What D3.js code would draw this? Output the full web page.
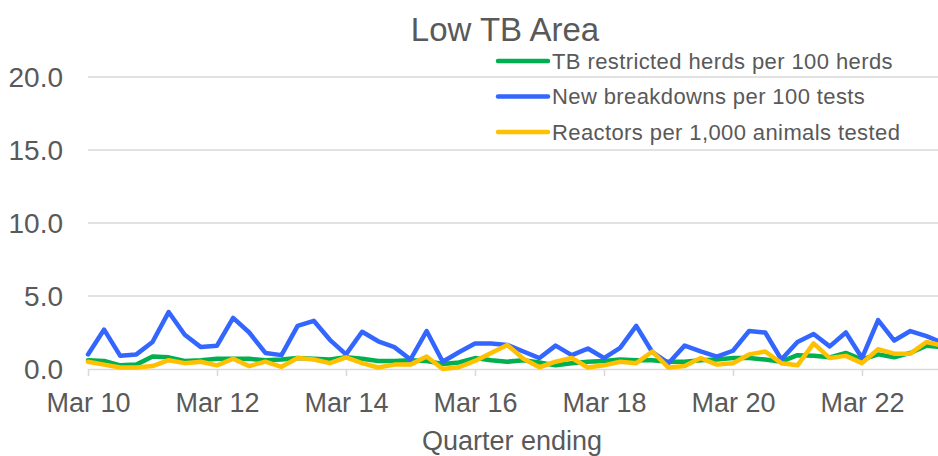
<!DOCTYPE html>
<html>
<head>
<meta charset="utf-8">
<script src="https://cdn.jsdelivr.net/npm/d3@7"></script>
<style>
  body { margin: 0; background: #fff; }
  text { font-family: "Liberation Sans", Arial, sans-serif; fill: #595959; }
</style>
</head>
<body>
<div id="chart"></div>
<script>
// categories: quarter ending, Mar 10 .. Jun 23
var months = ["Mar", "Jun", "Sep", "Dec"];
var years = ["10", "11", "12", "13", "14", "15", "16", "17", "18", "19", "20", "21", "22", "23"];
var quarters = [];
years.forEach(function (y) {
  months.forEach(function (m) {
    quarters.push(m + " " + y);
  });
});
quarters = quarters.slice(0, 54);

var restrictedHerds = [0.6, 0.55, 0.25, 0.3, 0.85, 0.8, 0.55, 0.6, 0.7, 0.7,
  0.7, 0.6, 0.65, 0.75, 0.7, 0.65, 0.8, 0.7, 0.55, 0.55,
  0.6, 0.55, 0.35, 0.45, 0.75, 0.6, 0.5, 0.6, 0.45, 0.25,
  0.4, 0.5, 0.55, 0.65, 0.6, 0.6, 0.5, 0.5, 0.6, 0.65,
  0.75, 0.75, 0.65, 0.5, 0.95, 0.9, 0.8, 1.1, 0.65, 1.0,
  0.8, 1.1, 1.6, 1.5];
var newBreakdowns = [1.0, 2.7, 0.9, 1.0, 1.85, 3.9, 2.35, 1.5, 1.6, 3.5,
  2.5, 1.1, 0.95, 2.95, 3.3, 2.0, 1.0, 2.55, 1.9, 1.5,
  0.65, 2.6, 0.5, 1.15, 1.75, 1.75, 1.65, 1.2, 0.75, 1.6,
  0.95, 1.4, 0.75, 1.45, 2.95, 1.15, 0.4, 1.6, 1.2, 0.85,
  1.25, 2.6, 2.5, 0.65, 1.85, 2.4, 1.55, 2.5, 0.75, 3.35,
  1.95, 2.6, 2.25, 1.8];
var reactors = [0.5, 0.3, 0.1, 0.1, 0.2, 0.6, 0.4, 0.5, 0.25, 0.7,
  0.2, 0.5, 0.15, 0.75, 0.65, 0.4, 0.8, 0.4, 0.1, 0.3,
  0.3, 0.85, 0.0, 0.12, 0.55, 1.1, 1.65, 0.7, 0.12, 0.5,
  0.75, 0.1, 0.25, 0.5, 0.4, 1.2, 0.1, 0.2, 0.75, 0.3,
  0.4, 1.0, 1.2, 0.4, 0.25, 1.75, 0.75, 0.9, 0.4, 1.35,
  1.05, 1.05, 1.85, 1.6];

var yTicks = [0, 5, 10, 15, 20];

var series = [
  { name: "TB restricted herds per 100 herds", values: restrictedHerds, color: "#00b050" },
  { name: "New breakdowns per 100 tests", values: newBreakdowns, color: "#3366ff" },
  { name: "Reactors per 1,000 animals tested", values: reactors, color: "#ffc000" }
];

var w = 938, h = 456;
var svg = d3.select("#chart").append("svg").attr("width", w).attr("height", h);

var x = d3.scalePoint().domain(quarters).range([88, 942.6]);
var y = d3.scaleLinear().domain([0, 20]).range([369, 77]);

// gridlines
svg.selectAll("line.grid")
  .data(yTicks.slice(1))
  .enter()
  .append("line")
  .attr("class", "grid")
  .attr("x1", 88)
  .attr("x2", w)
  .attr("y1", function (d) { return y(d); })
  .attr("y2", function (d) { return y(d); })
  .style("stroke", "#d9d9d9")
  .style("stroke-width", 1.5);

// y labels
svg.selectAll("text.ylab")
  .data(yTicks)
  .enter()
  .append("text")
  .attr("class", "ylab")
  .attr("x", 63)
  .attr("y", function (d) { return y(d); })
  .attr("dy", "0.35em")
  .attr("text-anchor", "end")
  .style("font-size", "28px")
  .text(function (d) { return d.toFixed(1); });

// x axis
var xAxis = d3.axisBottom(x)
  .tickValues(quarters.filter(function (d, i) { return i % 8 === 0; }))
  .tickSize(7)
  .tickSizeOuter(0);
var gx = svg.append("g").attr("transform", "translate(0," + y(0) + ")").call(xAxis);
gx.select(".domain").style("stroke", "#d9d9d9").style("stroke-width", 1.5);
gx.selectAll(".tick line").style("stroke", "#d9d9d9").style("stroke-width", 1.5);
gx.selectAll(".tick text")
  .attr("y", 43)
  .attr("dy", 0)
  .style("font-size", "27px")
  .style("font-family", "'Liberation Sans', Arial, sans-serif")
  .style("fill", "#595959");

// lines
var line = d3.line()
  .x(function (d, i) { return x(quarters[i]); })
  .y(function (d) { return y(d); });

svg.selectAll("path.series")
  .data(series)
  .enter()
  .append("path")
  .attr("class", "series")
  .attr("d", function (d) { return line(d.values); })
  .style("fill", "none")
  .style("stroke", function (d) { return d.color; })
  .style("stroke-width", 4.5)
  .style("stroke-linejoin", "round")
  .style("stroke-linecap", "round");

// title
svg.append("text")
  .attr("x", 505)
  .attr("y", 41)
  .attr("text-anchor", "middle")
  .style("font-size", "33px")
  .text("Low TB Area");

// axis title
svg.append("text")
  .attr("x", 512)
  .attr("y", 450)
  .attr("text-anchor", "middle")
  .style("font-size", "27px")
  .text("Quarter ending");

// legend
var legend = svg.selectAll("g.legend")
  .data(series)
  .enter()
  .append("g")
  .attr("class", "legend")
  .attr("transform", function (d, i) { return "translate(498," + (61 + i * 35.5) + ")"; });
legend.append("line")
  .attr("x1", 0)
  .attr("x2", 50)
  .style("stroke", function (d) { return d.color; })
  .style("stroke-width", 4.5)
  .style("stroke-linecap", "round");
legend.append("text")
  .attr("x", 54)
  .attr("dy", "0.35em")
  .style("font-size", "22px")
  .style("letter-spacing", "0.4px")
  .text(function (d) { return d.name; });
</script>
</body>
</html>
